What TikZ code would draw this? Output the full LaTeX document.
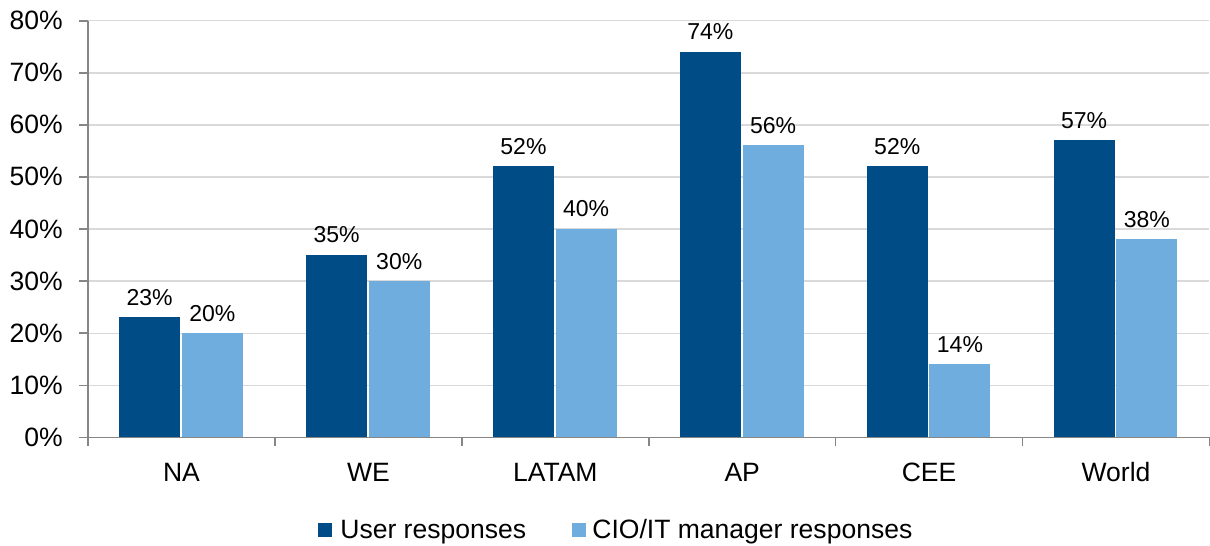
\documentclass[tikz,border=0pt]{standalone}
\usepackage{fontspec}
\setmainfont{Liberation Sans}
\usetikzlibrary{positioning}

\begin{document}
\begin{tikzpicture}[x=0.02cm, y=0.02cm,
    every node/.style={inner sep=0, font=\fontsize{15.1}{18}\selectfont},
    barlabel/.style={anchor=base, font=\fontsize{13.1}{16}\selectfont},
    userbar/.style={fill=user-blue, anchor=south east, minimum width=1.22cm},
    ciobar/.style={fill=cio-blue, anchor=south west, minimum width=1.22cm},
    keybox/.style={anchor=south west, minimum size=0.28cm}]
    % Definitions
    \definecolor{user-blue}{RGB}{0, 76, 134}
    \definecolor{cio-blue}{RGB}{111, 173, 223}
    \definecolor{grid-grey}{RGB}{217, 217, 217}
    \definecolor{axis-grey}{RGB}{134, 134, 134}

    \newcommand{\bargroup}[5]{
        \node[userbar, minimum height={#2*0.1042cm}] (#4-user)
            at ({#1-1},0) {};
        \node[ciobar, minimum height={#3*0.1042cm}] (#4-cio)
            at (#1,0) {};
        \node[barlabel] (#4-user-val)
            at ([yshift=0.23cm]#4-user.north) {#2\%};
        \node[barlabel] (#4-cio-val)
            at ([yshift=0.23cm]#4-cio.north) {#3\%};
        \node[anchor=base] (#4-name) at (#1,-44) {#5};
    }

    \useasboundingbox (-88,-108.5) rectangle (1122,437.5);

    % Grid and axes
    \foreach \k [evaluate=\k as \pct using int(10*\k)] in {0,...,8} {
        \ifnum\k>0
            \draw[grid-grey, line width=0.03cm] (0,\k*52.1) -- (1121,\k*52.1);
        \fi
        \draw[axis-grey, line width=0.035cm] (-9,\k*52.1) -- (0,\k*52.1);
        \node[anchor=base east] (ytick-\k) at (-25,\k*52.1-9) {\pct\%};
    }
    \draw[axis-grey, line width=0.035cm] (0,0) -- (0,416.8);
    \draw[axis-grey, line width=0.035cm] (0,0) -- (1121,0);
    \foreach \i in {0,...,6}
        \draw[axis-grey, line width=0.035cm] (\i*186.9,0) -- (\i*186.9,-8.5);

    % Bars
    \bargroup{93.5}{23}{20}{na}{NA}
    \bargroup{280.4}{35}{30}{we}{WE}
    \bargroup{467.3}{52}{40}{latam}{LATAM}
    \bargroup{654.2}{74}{56}{ap}{AP}
    \bargroup{841.1}{52}{14}{cee}{CEE}
    \bargroup{1028}{57}{38}{world}{World}

    % Legend
    \node[keybox, fill=user-blue] (user-key) at (230,-99.5) {};
    \node[anchor=base west] (user-text) at (252,-101.5) {User responses};
    \node[keybox, fill=cio-blue] (cio-key) at (484,-99.5) {};
    \node[anchor=base west] (cio-text) at (504,-101.5)
        {CIO/IT manager responses};
\end{tikzpicture}
\end{document}
